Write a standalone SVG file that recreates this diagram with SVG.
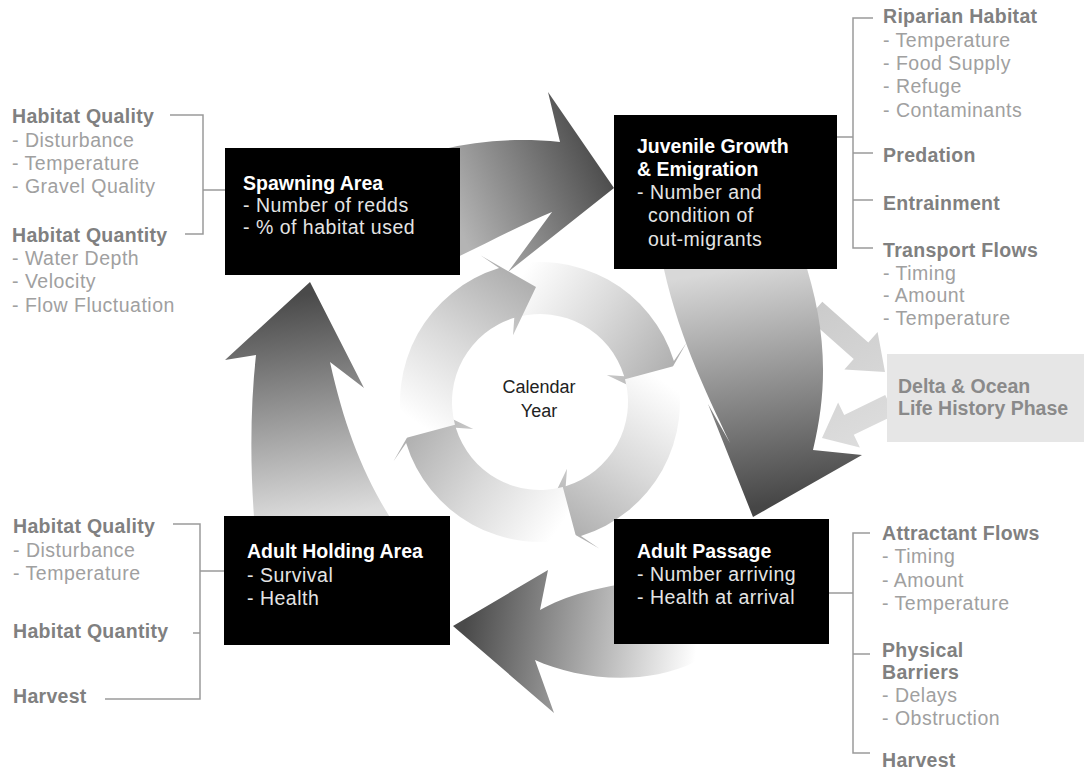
<svg xmlns="http://www.w3.org/2000/svg" width="1084" height="774" viewBox="0 0 1084 774">
<style>
  text { font-family: "Liberation Sans", Arial, sans-serif; font-size: 19.5px; }
  .box { fill: #000; }
  .bt { fill: #fff; font-weight: 700; }
  .bi { fill: #e4e4e4; letter-spacing: 0.5px; }
  .st { fill: #808080; font-weight: 700; letter-spacing: 0.3px; }
  .si { fill: #a0a0a0; letter-spacing: 0.5px; }
  .br { fill: none; stroke: #9a9a9a; stroke-width: 1.5; }
  .dt { fill: #8a8a8a; font-weight: 700; }
  .cy { fill: #222; font-size: 18px; text-anchor: middle; }
</style>
<defs>
  <linearGradient id="gIn" gradientUnits="userSpaceOnUse" x1="515" y1="285" x2="660" y2="385">
    <stop offset="0" stop-color="#ffffff"/>
    <stop offset="0.5" stop-color="#dadada"/>
    <stop offset="1" stop-color="#b0b0b0"/>
  </linearGradient>
  <linearGradient id="gTop" gradientUnits="userSpaceOnUse" x1="460" y1="230" x2="610" y2="160">
    <stop offset="0" stop-color="#b4b4b4"/>
    <stop offset="1" stop-color="#484848"/>
  </linearGradient>
  <linearGradient id="gRight" gradientUnits="userSpaceOnUse" x1="730" y1="270" x2="770" y2="505">
    <stop offset="0" stop-color="#d8d8d8"/>
    <stop offset="1" stop-color="#464646"/>
  </linearGradient>
  <linearGradient id="gBottom" gradientUnits="userSpaceOnUse" x1="695" y1="660" x2="465" y2="625">
    <stop offset="0" stop-color="#ffffff"/>
    <stop offset="1" stop-color="#4a4a4a"/>
  </linearGradient>
  <linearGradient id="gLeft" gradientUnits="userSpaceOnUse" x1="330" y1="515" x2="300" y2="295">
    <stop offset="0" stop-color="#dcdcdc"/>
    <stop offset="1" stop-color="#4a4a4a"/>
  </linearGradient>
  <linearGradient id="gDelta" gradientUnits="userSpaceOnUse" x1="810" y1="300" x2="890" y2="440">
    <stop offset="0" stop-color="#cacaca"/>
    <stop offset="1" stop-color="#dedede"/>
  </linearGradient>
  <path id="inArrow" d="M503.8,266.8 A140,140 0 0 1 673.9,361.1 L686.5,342.8 L654.9,398 L606.8,375 L624.2,376.3 A88,88 0 0 0 517.2,317 Z"/>
</defs>

<g id="connectors">
  <!-- delta exchange arrows -->
  <polygon fill="url(#gDelta)" points="822.3,301.8 868.3,342.6 877.6,332.1 885,372 844.4,369.5 853.7,359 807.7,318.2"/>
  <polygon fill="url(#gDelta)" points="885.2,395.1 844.2,415 838.1,402.4 822,438 859.9,447.4 853.8,434.8 894.8,414.9"/>
  <!-- inner calendar-year cycle -->
  <use href="#inArrow" fill="url(#gIn)"/>
  <use href="#inArrow" fill="url(#gIn)" transform="rotate(90 540 402)"/>
  <use href="#inArrow" fill="url(#gIn)" transform="rotate(180 540 402)"/>
  <use href="#inArrow" fill="url(#gIn)" transform="rotate(270 540 402)"/>
  <!-- outer life-cycle arrows -->
  <path fill="url(#gTop)" d="M440,150 C480,140 520,138 560,142 L548,92 L614,188 L508,272 L552,212 C520,225 485,245 440,265 Z"/>
  <path fill="url(#gRight)" d="M660,250 C675,330 705,390 730,443 L708,404 L753,517 L862,455 L813,450 C830,380 825,320 801,250 Z"/>
  <path fill="url(#gBottom)" d="M640,582 C600,586 565,596 540,610 L548,570 L453,626 L554,713 L535,660 C575,678 640,688 695,662 L700,630 Z"/>
  <path fill="url(#gLeft)" d="M255,530 C250,470 250,410 256,355 L225,360 L310,282 L364,388 L330,362 C345,430 365,480 398,530 Z"/>
  <!-- brackets -->
  <path class="br" d="M170,115 H203 V234 H185 M203,190 H225"/>
  <path class="br" d="M173,524 H200 V699 H105 M193,633 H200 M200,571 H224"/>
  <path class="br" d="M873,18 H853 V248 H873 M853,153 H873 M853,200 H873 M837,137 H853"/>
  <path class="br" d="M870,533 H853 V753 H870 M853,654 H870 M829,593 H853"/>
</g>

<g id="spawning">
  <rect class="box" x="225" y="148" width="235" height="127"/>
  <text class="bt" x="243" y="190">Spawning Area</text>
  <text class="bi" x="243" y="212">- Number of redds</text>
  <text class="bi" x="243" y="234">- % of habitat used</text>
</g>
<g id="juvenile">
  <rect class="box" x="614" y="115" width="223" height="154"/>
  <text class="bt" x="637" y="153">Juvenile Growth</text>
  <text class="bt" x="637" y="176">&amp; Emigration</text>
  <text class="bi" x="637" y="199">- Number and</text>
  <text class="bi" x="648" y="222">condition of</text>
  <text class="bi" x="648" y="246">out-migrants</text>
</g>
<g id="holding">
  <rect class="box" x="224" y="516" width="226" height="129"/>
  <text class="bt" x="247" y="558">Adult Holding Area</text>
  <text class="bi" x="247" y="582">- Survival</text>
  <text class="bi" x="247" y="605">- Health</text>
</g>
<g id="passage">
  <rect class="box" x="614" y="519" width="215" height="125"/>
  <text class="bt" x="637" y="558">Adult Passage</text>
  <text class="bi" x="637" y="581">- Number arriving</text>
  <text class="bi" x="637" y="604">- Health at arrival</text>
</g>
<g id="delta">
  <rect x="887" y="354" width="197" height="88" fill="#e6e6e6"/>
  <text class="dt" x="898" y="393">Delta &amp; Ocean</text>
  <text class="dt" x="898" y="415">Life History Phase</text>
</g>
<g id="calendar">
  <text class="cy" x="539" y="393">Calendar</text>
  <text class="cy" x="539" y="417">Year</text>
</g>

<g id="spawning-factors">
  <text class="st" x="12" y="123">Habitat Quality</text>
  <text class="si" x="12" y="147">- Disturbance</text>
  <text class="si" x="12" y="170">- Temperature</text>
  <text class="si" x="12" y="193">- Gravel Quality</text>
  <text class="st" x="12" y="242">Habitat Quantity</text>
  <text class="si" x="12" y="265">- Water Depth</text>
  <text class="si" x="12" y="288">- Velocity</text>
  <text class="si" x="12" y="312">- Flow Fluctuation</text>
</g>
<g id="holding-factors">
  <text class="st" x="13" y="533">Habitat Quality</text>
  <text class="si" x="13" y="557">- Disturbance</text>
  <text class="si" x="13" y="580">- Temperature</text>
  <text class="st" x="13" y="638">Habitat Quantity</text>
  <text class="st" x="13" y="703">Harvest</text>
</g>
<g id="juvenile-factors">
  <text class="st" x="883" y="23">Riparian Habitat</text>
  <text class="si" x="883" y="47">- Temperature</text>
  <text class="si" x="883" y="70">- Food Supply</text>
  <text class="si" x="883" y="93">- Refuge</text>
  <text class="si" x="883" y="117">- Contaminants</text>
  <text class="st" x="883" y="162">Predation</text>
  <text class="st" x="883" y="210">Entrainment</text>
  <text class="st" x="883" y="257">Transport Flows</text>
  <text class="si" x="883" y="280">- Timing</text>
  <text class="si" x="883" y="302">- Amount</text>
  <text class="si" x="883" y="325">- Temperature</text>
</g>
<g id="passage-factors">
  <text class="st" x="882" y="540">Attractant Flows</text>
  <text class="si" x="882" y="563">- Timing</text>
  <text class="si" x="882" y="587">- Amount</text>
  <text class="si" x="882" y="610">- Temperature</text>
  <text class="st" x="882" y="657">Physical</text>
  <text class="st" x="882" y="679">Barriers</text>
  <text class="si" x="882" y="702">- Delays</text>
  <text class="si" x="882" y="725">- Obstruction</text>
  <text class="st" x="882" y="767">Harvest</text>
</g>
</svg>
